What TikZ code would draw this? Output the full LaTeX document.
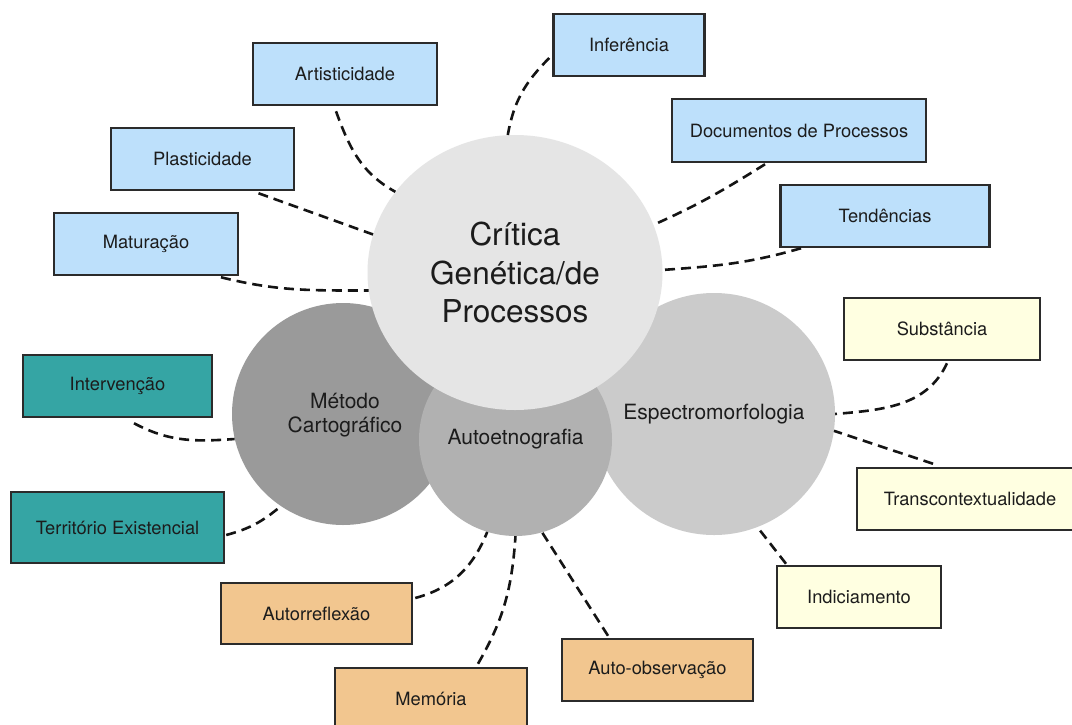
\documentclass[tikz,border=0pt]{standalone}
\usepackage{fontspec}
\setmainfont{TeX Gyre Heros}
\usetikzlibrary{shapes.geometric}

\definecolor{boxblue}{HTML}{BDE0FB}
\definecolor{boxteal}{HTML}{35A5A4}
\definecolor{boxpeach}{HTML}{F2C68F}
\definecolor{boxcream}{HTML}{FFFFE1}
\definecolor{edge}{HTML}{2B2B2B}
\definecolor{txt}{HTML}{1C1C1C}
\definecolor{discmain}{HTML}{E5E5E5}
\definecolor{disccart}{HTML}{9A9A9A}
\definecolor{discauto}{HTML}{B1B1B1}
\definecolor{discspec}{HTML}{CBCBCB}

\tikzset{
  box/.style={draw=edge, line width=2.5pt, inner sep=0pt, text=txt,
              font=\fontsize{18.3}{22}\selectfont, minimum height=62pt},
  disc/.style={circle, inner sep=0pt, text=txt, align=center,
               font=\fontsize{21}{24.7}\selectfont},
  link/.style={draw=black!92, line width=2.6pt, dash pattern=on 10pt off 6pt}
}

\begin{document}
\begin{tikzpicture}[x=1pt, y=1pt]
\useasboundingbox (0,0) rectangle (1072,-724);
\clip (0,0) rectangle (1072,-724);
\fill[white] (0,0) rectangle (1072,-724);

% overlapping discs, back to front
\node[disc, fill=disccart, minimum size=222pt] (meth) at (343,-414) {};
\node[txt, align=center, font=\fontsize{21}{24.7}\selectfont] (methlbl) at (345,-415) {Método\\Cartográfico};
\node[disc, fill=discspec, minimum size=242pt] (spec) at (714,-414) {Espectromorfologia};
\node[disc, fill=discauto, minimum size=193pt] (auto) at (515.5,-439.5) {Autoetnografia};
\node[ellipse, fill=discmain, minimum width=295pt, minimum height=275pt, inner sep=0pt,
      text=txt, align=center, font=\fontsize{31.5}{38.5}\selectfont]
      (crit) at (515,-272.5) {Crítica\\Genética/de\\Processos};

% blue concepts
\node[box, fill=boxblue, minimum width=184pt] (art) at (345,-74) {Artisticidade};
\node[box, fill=boxblue, minimum width=183pt] (pla) at (202.5,-159) {Plasticidade};
\node[box, fill=boxblue, minimum width=184pt] (mat) at (146,-244) {Maturação};
\node[box, fill=boxblue, minimum width=151pt] (inf) at (629,-45) {Inferência};
\node[box, fill=boxblue, minimum width=254pt, minimum height=63pt] (doc) at (799,-130.5) {Documentos de Processos};
\node[box, fill=boxblue, minimum width=209pt] (ten) at (885,-216) {Tendências};

% teal concepts
\node[box, fill=boxteal, minimum width=189pt] (int) at (117.5,-386) {Intervenção};
\node[box, fill=boxteal, minimum width=213pt, minimum height=71pt] (ter) at (117.5,-527.5) {Território Existencial};

% peach concepts
\node[box, fill=boxpeach, minimum width=191pt, minimum height=61pt] (aur) at (316.5,-613.5) {Autorreflexão};
\node[box, fill=boxpeach, minimum width=192pt, minimum height=61pt] (mem) at (431,-698.5) {Memória};
\node[box, fill=boxpeach, minimum width=191pt] (aob) at (657.5,-670) {Auto-observação};

% cream concepts
\node[box, fill=boxcream, minimum width=196pt] (sub) at (942,-329) {Substância};
\node[box, fill=boxcream, minimum width=226pt] (tra) at (970,-499) {Transcontextualidade};
\node[box, fill=boxcream, minimum width=164pt] (ind) at (859,-597) {Indiciamento};

% dashed links
\draw[link] ([xshift=-9pt,yshift=-5pt]art.south) to[out=-70,in=151] (crit.146.9);
\draw[link] ([xshift=56pt,yshift=-2pt]pla.south) -- (crit.165.3);
\draw[link] ([xshift=75pt,yshift=-1pt]mat.south) to[out=-14,in=180] (crit.187.9);
\draw[link] ([xshift=-3pt,yshift=-13pt]inf.west) to[out=-135,in=80] (crit.93.3);
\draw[link] ([xshift=-34pt,yshift=-1pt]doc.south) to[out=212,in=24] (crit.19.3);
\draw[link] ([xshift=-84pt]ten.south) to[out=196,in=4] (crit.1);
\draw[link] ([xshift=16.5pt,yshift=-5pt]int.south) to[out=-28,in=184] (meth.193);
\draw[link] ([xshift=1pt,yshift=-7.5pt]ter.east) to[out=15,in=220] (meth.236.2);
\draw[link] ([xshift=2pt,yshift=15.5pt]aur.east) to[out=15,in=248] (auto.253.9);
\draw[link] ([xshift=47pt,yshift=3pt]mem.north) to[out=60,in=266] (auto.270.9);
\draw[link] ([xshift=-49.5pt,yshift=2pt]aob.north) -- (auto.286.6);
\draw[link] ([xshift=5pt,yshift=-2pt]sub.south) to[out=-115,in=5] (spec.0.5);
\draw[link] ([xshift=-37pt,yshift=3pt]tra.north) -- (spec.-8.9);
\draw[link] ([xshift=-73pt,yshift=1pt]ind.north) -- (spec.-69.8);
\end{tikzpicture}
\end{document}
